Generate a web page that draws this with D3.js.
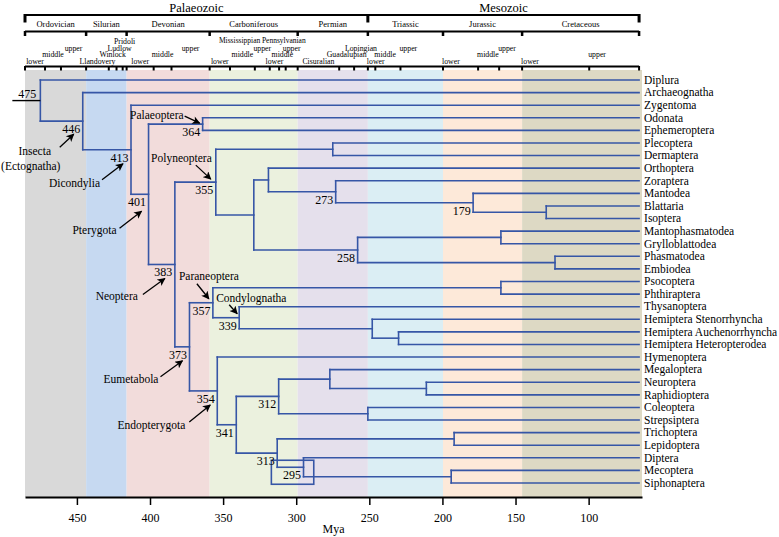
<!DOCTYPE html>
<html><head><meta charset="utf-8">
<script src="https://cdn.jsdelivr.net/npm/d3@7/dist/d3.min.js"></script>
<style>
html,body{margin:0;padding:0;background:#fff;}
svg{display:block;}
text{font-family:"Liberation Serif","Times New Roman",Times,serif;fill:#000;}
</style></head><body>
<svg id="chart" width="779" height="537"></svg>
<script>
// ---------------- DATA ----------------
const tips = ["Diplura","Archaeognatha","Zygentoma","Odonata","Ephemeroptera","Plecoptera","Dermaptera",
  "Orthoptera","Zoraptera","Mantodea","Blattaria","Isoptera","Mantophasmatodea","Grylloblattodea",
  "Phasmatodea","Embiodea","Psocoptera","Phthiraptera","Thysanoptera","Hemiptera Stenorrhyncha",
  "Hemiptera Auchenorrhyncha","Hemiptera Heteropterodea","Hymenoptera","Megaloptera","Neuroptera",
  "Raphidioptera","Coleoptera","Strepsiptera","Trichoptera","Lepidoptera","Diptera","Mecoptera","Siphonaptera"];
const tipAge = 65.5;

// [node id, age (Mya), children]
const clades = [
  ["n475", 475, ["Diplura", "n446"]],
  ["n446", 446, ["Archaeognatha", "n413"]],
  ["n413", 413, ["Zygentoma", "n401"]],
  ["n401", 401, ["n364", "n383"]],
  ["n364", 364, ["Odonata", "Ephemeroptera"]],
  ["n383", 383, ["n355", "n373"]],
  ["n355", 355, ["c275", "c329"]],
  ["c275", 275, ["Plecoptera", "Dermaptera"]],
  ["c329", 329, ["c319", "n258"]],
  ["c319", 319, ["Orthoptera", "n273"]],
  ["n273", 273, ["Zoraptera", "n179"]],
  ["n179", 179, ["Mantodea", "c129"]],
  ["c129", 129, ["Blattaria", "Isoptera"]],
  ["n258", 258, ["c160a", "c123"]],
  ["c160a", 160, ["Mantophasmatodea", "Grylloblattodea"]],
  ["c123", 123, ["Phasmatodea", "Embiodea"]],
  ["n373", 373, ["n357", "n354"]],
  ["n357", 357, ["c160b", "n339"]],
  ["c160b", 160, ["Psocoptera", "Phthiraptera"]],
  ["n339", 339, ["Thysanoptera", "c248"]],
  ["c248", 248, ["Hemiptera Stenorrhyncha", "c230"]],
  ["c230", 230, ["Hemiptera Auchenorrhyncha", "Hemiptera Heteropterodea"]],
  ["n354", 354, ["Hymenoptera", "n341"]],
  ["n341", 341, ["n312", "n313"]],
  ["n312", 312, ["c277", "c251"]],
  ["c277", 277, ["Megaloptera", "c211"]],
  ["c211", 211, ["Neuroptera", "Raphidioptera"]],
  ["c251", 251, ["Coleoptera", "Strepsiptera"]],
  ["n313", 313, ["c192", "n295"]],
  ["c192", 192, ["Trichoptera", "Lepidoptera"]],
  ["n295", 295, ["Diptera", "c194"]],
  ["c194", 194, ["Mecoptera", "Siphonaptera"]]
];
const shownAges = ["n475","n446","n413","n401","n364","n383","n355","n273","n179","n258",
  "n373","n357","n339","n354","n341","n312","n313","n295"];
const cladeNames = [
  ["n446", ["Insecta", "(Ectognatha)"]],
  ["n413", ["Dicondylia"]],
  ["n401", ["Pterygota"]],
  ["n364", ["Palaeoptera"]],
  ["n355", ["Polyneoptera"]],
  ["n383", ["Neoptera"]],
  ["n373", ["Eumetabola"]],
  ["n354", ["Endopterygota"]],
  ["n357", ["Paraneoptera"]],
  ["n339", ["Condylognatha"]]
];
const interval295 = [317, 288];

const eras = [["Palaeozoic", 488.3, 251.0], ["Mesozoic", 251.0, 65.5]];
const periods = [["Ordovician", 488.3, 443.7, "Palaeozoic"], ["Silurian", 443.7, 416.0, "Palaeozoic"],
  ["Devonian", 416.0, 359.2, "Palaeozoic"], ["Carboniferous", 359.2, 299.0, "Palaeozoic"],
  ["Permian", 299.0, 251.0, "Palaeozoic"], ["Triassic", 251.0, 199.6, "Mesozoic"],
  ["Jurassic", 199.6, 145.5, "Mesozoic"], ["Cretaceous", 145.5, 65.5, "Mesozoic"]];
const periodColors = ["#d9d9d9", "#c6d9f1", "#f2dcdb", "#ebf1de", "#e5e0ec", "#dbeef4", "#fde9d9", "#ddd9c4"];
const subperiods = [["Mississippian", 359.2, 318.1], ["Pennsylvanian", 318.1, 299.0]];
// [name, start, end, group]
const epochs = [
  ["lower", 488.3, 471.8, "Ordovician"], ["middle", 471.8, 460.9, "Ordovician"], ["upper", 460.9, 443.7, "Ordovician"],
  ["Llandovery", 443.7, 428.2, "Silurian"], ["Winlock", 428.2, 422.9, "Silurian"], ["Ludlow", 422.9, 418.7, "Silurian"], ["Pridoli", 418.7, 416.0, "Silurian"],
  ["lower", 416.0, 397.5, "Devonian"], ["middle", 397.5, 385.3, "Devonian"], ["upper", 385.3, 359.2, "Devonian"],
  ["lower", 359.2, 345.3, "Mississippian"], ["middle", 345.3, 328.3, "Mississippian"], ["upper", 328.3, 318.1, "Mississippian"],
  ["lower", 318.1, 311.7, "Pennsylvanian"], ["middle", 311.7, 307.2, "Pennsylvanian"], ["upper", 307.2, 299.0, "Pennsylvanian"],
  ["Cisuralian", 299.0, 270.6, "Permian"], ["Guadalupian", 270.6, 260.4, "Permian"], ["Lopingian", 260.4, 251.0, "Permian"],
  ["lower", 251.0, 245.9, "Triassic"], ["middle", 245.9, 228.7, "Triassic"], ["upper", 228.7, 199.6, "Triassic"],
  ["lower", 199.6, 175.6, "Jurassic"], ["middle", 175.6, 161.2, "Jurassic"], ["upper", 161.2, 145.5, "Jurassic"],
  ["lower", 145.5, 99.6, "Cretaceous"], ["upper", 99.6, 65.5, "Cretaceous"]
];
const axisTicks = [450, 400, 350, 300, 250, 200, 150, 100];
const axisTitle = "Mya";

// ---------------- LAYOUT / STYLE ----------------
const lineColor = "#3656a6";
const plotTop = 70, plotBottom = 497;
const svg = d3.select("#chart");
const x = d3.scaleLinear().domain([485.5, 63.5]).range([25, 642]).clamp(true);
const y = d3.scalePoint().domain(tips).range([80, 483]);

// period background bands
svg.append("g").selectAll("rect").data(periods).join("rect")
  .attr("x", d => x(d[1])).attr("y", plotTop)
  .attr("width", (d, i) => (i === periods.length - 1 ? x.range()[1] : x(d[2])) - x(d[1]))
  .attr("height", plotBottom - plotTop)
  .attr("fill", (d, i) => periodColors[i]);

// ---------- header time scale ----------
const hdr = svg.append("g");
const xEnd = x(periods[periods.length - 1][2]);
function bracketLine(yy, w) {
  hdr.append("line").attr("x1", x(eras[0][1])).attr("x2", xEnd).attr("y1", yy).attr("y2", yy)
    .attr("stroke", "#000").attr("stroke-width", w);
}
bracketLine(15, 2);
bracketLine(31.5, 2);
bracketLine(66.5, 2);
const eraBounds = [eras[0][1], ...eras.map(e => e[2])];
hdr.selectAll(".et").data(eraBounds).join("line")
  .attr("x1", d => x(d)).attr("x2", d => x(d)).attr("y1", 14).attr("y2", 22.5)
  .attr("stroke", "#000").attr("stroke-width", 3);
const perBounds = [periods[0][1], ...periods.map(p => p[2])];
hdr.selectAll(".pt").data(perBounds).join("line")
  .attr("x1", d => x(d)).attr("x2", d => x(d)).attr("y1", 31).attr("y2", 36)
  .attr("stroke", "#000").attr("stroke-width", 2.5);
const epBounds = [epochs[0][1], ...epochs.map(p => p[2])];
hdr.selectAll(".ept").data(epBounds).join("line")
  .attr("x1", d => x(d)).attr("x2", d => x(d)).attr("y1", 66).attr("y2", 70.5)
  .attr("stroke", "#000").attr("stroke-width", 2);

const hdrText = hdr.append("g");
hdrText.selectAll(".era").data(eras).join("text")
  .attr("x", d => (x(d[1]) + x(d[2])) / 2).attr("y", 12)
  .attr("text-anchor", "middle").attr("font-size", 12.5).text(d => d[0]);
hdrText.selectAll(".per").data(periods).join("text")
  .attr("x", d => (x(d[1]) + x(d[2])) / 2).attr("y", 26.5)
  .attr("text-anchor", "middle").attr("font-size", 8.5).text(d => d[0]);
const subT = hdrText.append("g").selectAll("text").data(subperiods).join("text")
  .attr("x", d => (x(d[1]) + x(d[2])) / 2).attr("y", 42.5)
  .attr("text-anchor", "middle").attr("font-size", 7.5).text(d => d[0]);
// push the two sub-period names apart if they touch
(function () {
  const n = subT.nodes();
  const b0 = n[0].getBBox(), b1 = n[1].getBBox();
  const ov = b0.x + b0.width + 1.5 - b1.x;
  if (ov > 0) {
    d3.select(n[0]).attr("x", +d3.select(n[0]).attr("x") - ov / 2);
    d3.select(n[1]).attr("x", +d3.select(n[1]).attr("x") + ov / 2);
  }
})();
const rowBase = [63.5, 57, 50.5, 44];
const eraOfGroup = {};
periods.forEach(p => eraOfGroup[p[0]] = p[3]);
eraOfGroup["Mississippian"] = "Palaeozoic"; eraOfGroup["Pennsylvanian"] = "Palaeozoic";
const groupIdx = {};
hdrText.append("g").selectAll("text").data(epochs).join("text")
  .attr("font-size", 7.8)
  .each(function (d) {
    const g = d[3];
    groupIdx[g] = (groupIdx[g] === undefined) ? 0 : groupIdx[g] + 1;
    const row = groupIdx[g];
    const meso = eraOfGroup[g] === "Mesozoic";
    d3.select(this)
      .attr("x", meso ? x(d[1]) - 1 : (x(d[1]) + x(d[2])) / 2)
      .attr("text-anchor", meso ? "start" : "middle")
      .attr("y", rowBase[row]);
  })
  .text(d => d[0]);
// keep the very first label inside the chart
hdrText.selectAll("text").each(function () {
  const b = this.getBBox();
  if (b.x < 22) d3.select(this).attr("x", +d3.select(this).attr("x") + (22 - b.x));
});

// ---------- tree ----------
const cladeMap = new Map(clades.map(([id, age, ch]) => [id, { id, age, children: ch }]));
const yPos = new Map(), agePos = new Map();
tips.forEach(t => { yPos.set(t, y(t)); agePos.set(t, tipAge); });
function nodeY(id) {
  if (yPos.has(id)) return yPos.get(id);
  const c = cladeMap.get(id);
  const ys = c.children.map(nodeY);
  const v = (ys[0] + ys[ys.length - 1]) / 2;
  yPos.set(id, v); agePos.set(id, c.age);
  return v;
}
clades.forEach(c => nodeY(c[0]));

const segs = [];
clades.forEach(([id, age, ch]) => {
  const ys = ch.map(c => yPos.get(c));
  segs.push([x(age), d3.min(ys), x(age), d3.max(ys)]);
  ch.forEach(c => segs.push([x(age), yPos.get(c), x(agePos.get(c)), yPos.get(c)]));
});
const rootId = clades[0][0];

const treeG = svg.append("g");
// interval box around node 295
const n295y = yPos.get("n295");
treeG.append("rect")
  .attr("x", x(interval295[0])).attr("y", n295y - 7)
  .attr("width", x(interval295[1]) - x(interval295[0])).attr("height", 24)
  .attr("fill", "none").attr("stroke", lineColor).attr("stroke-width", 1.6);

treeG.selectAll("line").data(segs).join("line")
  .attr("x1", d => d[0]).attr("y1", d => d[1]).attr("x2", d => d[2]).attr("y2", d => d[3])
  .attr("stroke", lineColor).attr("stroke-width", 1.6).attr("stroke-linecap", "square");
// root stub
treeG.append("line")
  .attr("x1", x(agePos.get(rootId)) - 28).attr("x2", x(agePos.get(rootId)))
  .attr("y1", yPos.get(rootId)).attr("y2", yPos.get(rootId))
  .attr("stroke", "#000").attr("stroke-width", 1.4);

// node age labels
svg.append("g").selectAll("text").data(shownAges).join("text")
  .attr("x", id => x(agePos.get(id)) - (id === rootId ? 4 : 2.5))
  .attr("y", id => yPos.get(id) + (id === rootId ? -2.5 : 12))
  .attr("text-anchor", "end").attr("font-size", 12)
  .text(id => agePos.get(id));

// tip labels
svg.append("g").selectAll("text").data(tips).join("text")
  .attr("x", x(tipAge) + 5).attr("y", t => y(t)).attr("dy", "0.33em")
  .attr("font-size", 11.5).text(t => t);

// clade names with arrows
const annot = {
  n446: { anchor: "middle", tx: -48, ty: 34, a: [-23, 26, -9, 13] },
  n413: { anchor: "end", tx: -31, ty: 37, a: [-29, 30, -8, 14] },
  n401: { anchor: "end", tx: -32, ty: 40, a: [-29, 34, -7, 17] },
  n364: { anchor: "end", tx: -19, ty: -5, a: [-18, -8, -3, -1] },
  n355: { anchor: "end", tx: -4, ty: -20, a: [-20, -17, -5, -3] },
  n383: { anchor: "end", tx: -37, ty: 36, a: [-32, 30, -10, 14] },
  n373: { anchor: "end", tx: -31, ty: 36, a: [-29, 30, -7, 14] },
  n354: { anchor: "end", tx: -32, ty: 38, a: [-28, 31, -7, 14] },
  n357: { anchor: "start", tx: -34, ty: -23, a: [-16, -19, -4, -4] },
  n339: { anchor: "start", tx: -23, ty: -16, a: [-10, -13, -2, -4] }
};
const defs = svg.append("defs");
defs.append("marker").attr("id", "arr").attr("viewBox", "0 0 10 10")
  .attr("refX", 9).attr("refY", 5).attr("markerWidth", 9).attr("markerHeight", 8)
  .attr("markerUnits", "userSpaceOnUse").attr("orient", "auto")
  .append("path").attr("d", "M0,0 L10,5 L0,10 L2.5,5 z").attr("fill", "#000");
const annG = svg.append("g");
cladeNames.forEach(([id, lines]) => {
  const o = annot[id];
  const nx = x(agePos.get(id)), nyy = yPos.get(id);
  const t = annG.append("text").attr("font-size", 11.5).attr("text-anchor", o.anchor);
  lines.forEach((ln, i) => {
    t.append("tspan").attr("x", nx + o.tx + (i === 1 ? -4 : 0)).attr("y", nyy + o.ty + i * 15).text(ln);
  });
  annG.append("line")
    .attr("x1", nx + o.a[0]).attr("y1", nyy + o.a[1]).attr("x2", nx + o.a[2]).attr("y2", nyy + o.a[3])
    .attr("stroke", "#000").attr("stroke-width", 1.3).attr("marker-end", "url(#arr)");
});

// ---------- axis ----------
const axisG = svg.append("g").attr("transform", `translate(0,${plotBottom})`)
  .call(d3.axisBottom(x).tickValues(axisTicks).tickSize(8).tickSizeOuter(0).tickPadding(8).tickFormat(d3.format("d")));
axisG.attr("font-family", null);
axisG.select(".domain").attr("stroke", "#000").attr("stroke-width", 2);
axisG.selectAll(".tick line").attr("stroke", "#000").attr("stroke-width", 1.5);
axisG.selectAll(".tick text").attr("font-size", 12);
svg.append("text").attr("x", (x.range()[0] + x.range()[1]) / 2).attr("y", 533)
  .attr("text-anchor", "middle").attr("font-size", 12).text(axisTitle);
</script>
</body></html>
